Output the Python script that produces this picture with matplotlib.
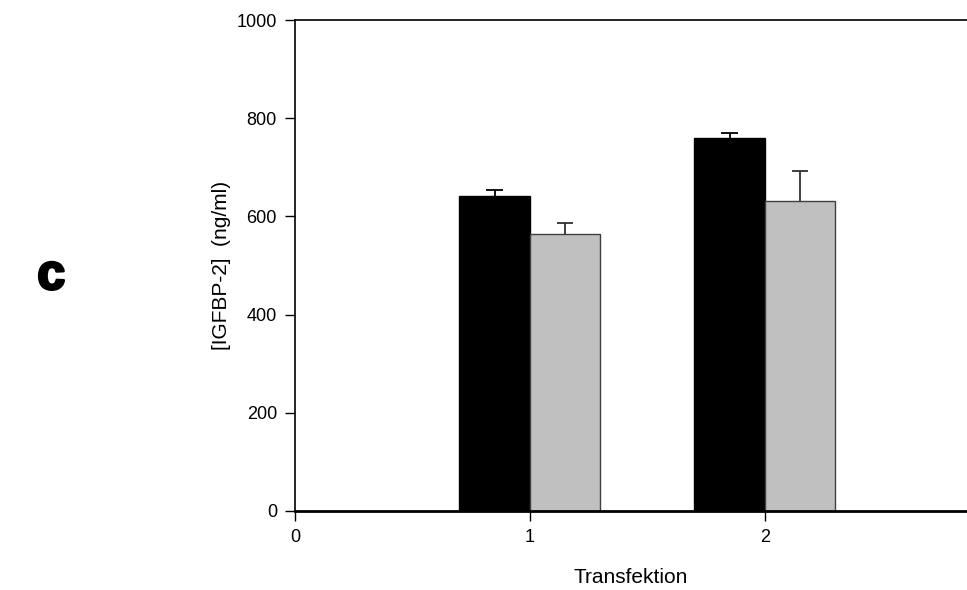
import numpy as np
import matplotlib.pyplot as plt
import matplotlib.patheffects as pe

plt.rcParams['font.family'] = ['Liberation Sans', 'DejaVu Sans']

# ===== DATA =====
groups = [1, 2]
black_vals = [641, 760]
black_err = [13, 9]
gray_vals = [565, 631]
gray_err = [21, 62]
yticks = [0, 200, 400, 600, 800, 1000]
xticks = [0, 1, 2]

width = 0.3
cap = 0.035
x = np.array(groups, dtype=float)

fig = plt.figure(figsize=(9.67, 5.9), dpi=100)
ax = fig.add_axes([0.305, 0.134, 0.695, 0.832])

ax.bar(x - width / 2, black_vals, width, color='black', edgecolor='black', linewidth=1)
ax.bar(x + width / 2, gray_vals, width, color='#c0c0c0', edgecolor='#404040', linewidth=1)

# upper-only error bars
for xs, vals, errs, c in [(x - width / 2, black_vals, black_err, 'black'),
                          (x + width / 2, gray_vals, gray_err, '#303030')]:
    tops = np.array(vals) + np.array(errs)
    ax.vlines(xs, vals, tops, color=c, linewidth=1.3)
    ax.hlines(tops, xs - cap, xs + cap, color=c, linewidth=1.3)

ax.set_xlim(0, 2.86)
ax.set_ylim(0, 1000)
ax.set_xticks(xticks)
ax.set_yticks(yticks)
ax.tick_params(direction='out', length=7, width=1, labelsize=13, pad=6)
ax.spines['right'].set_visible(False)
for s in ['left', 'top']:
    ax.spines[s].set_linewidth(1.2)
ax.spines['bottom'].set_linewidth(2)

ax.set_xlabel('Transfektion', fontsize=15, labelpad=16)
ax.set_ylabel('[IGFBP-2]  (ng/ml)', fontsize=15, labelpad=4)

fig.text(0.053, 0.532, 'c', fontsize=36, fontweight='heavy', ha='center', va='center',
         path_effects=[pe.withStroke(linewidth=2, foreground='black')])

fig.savefig('out.png', dpi=100)
